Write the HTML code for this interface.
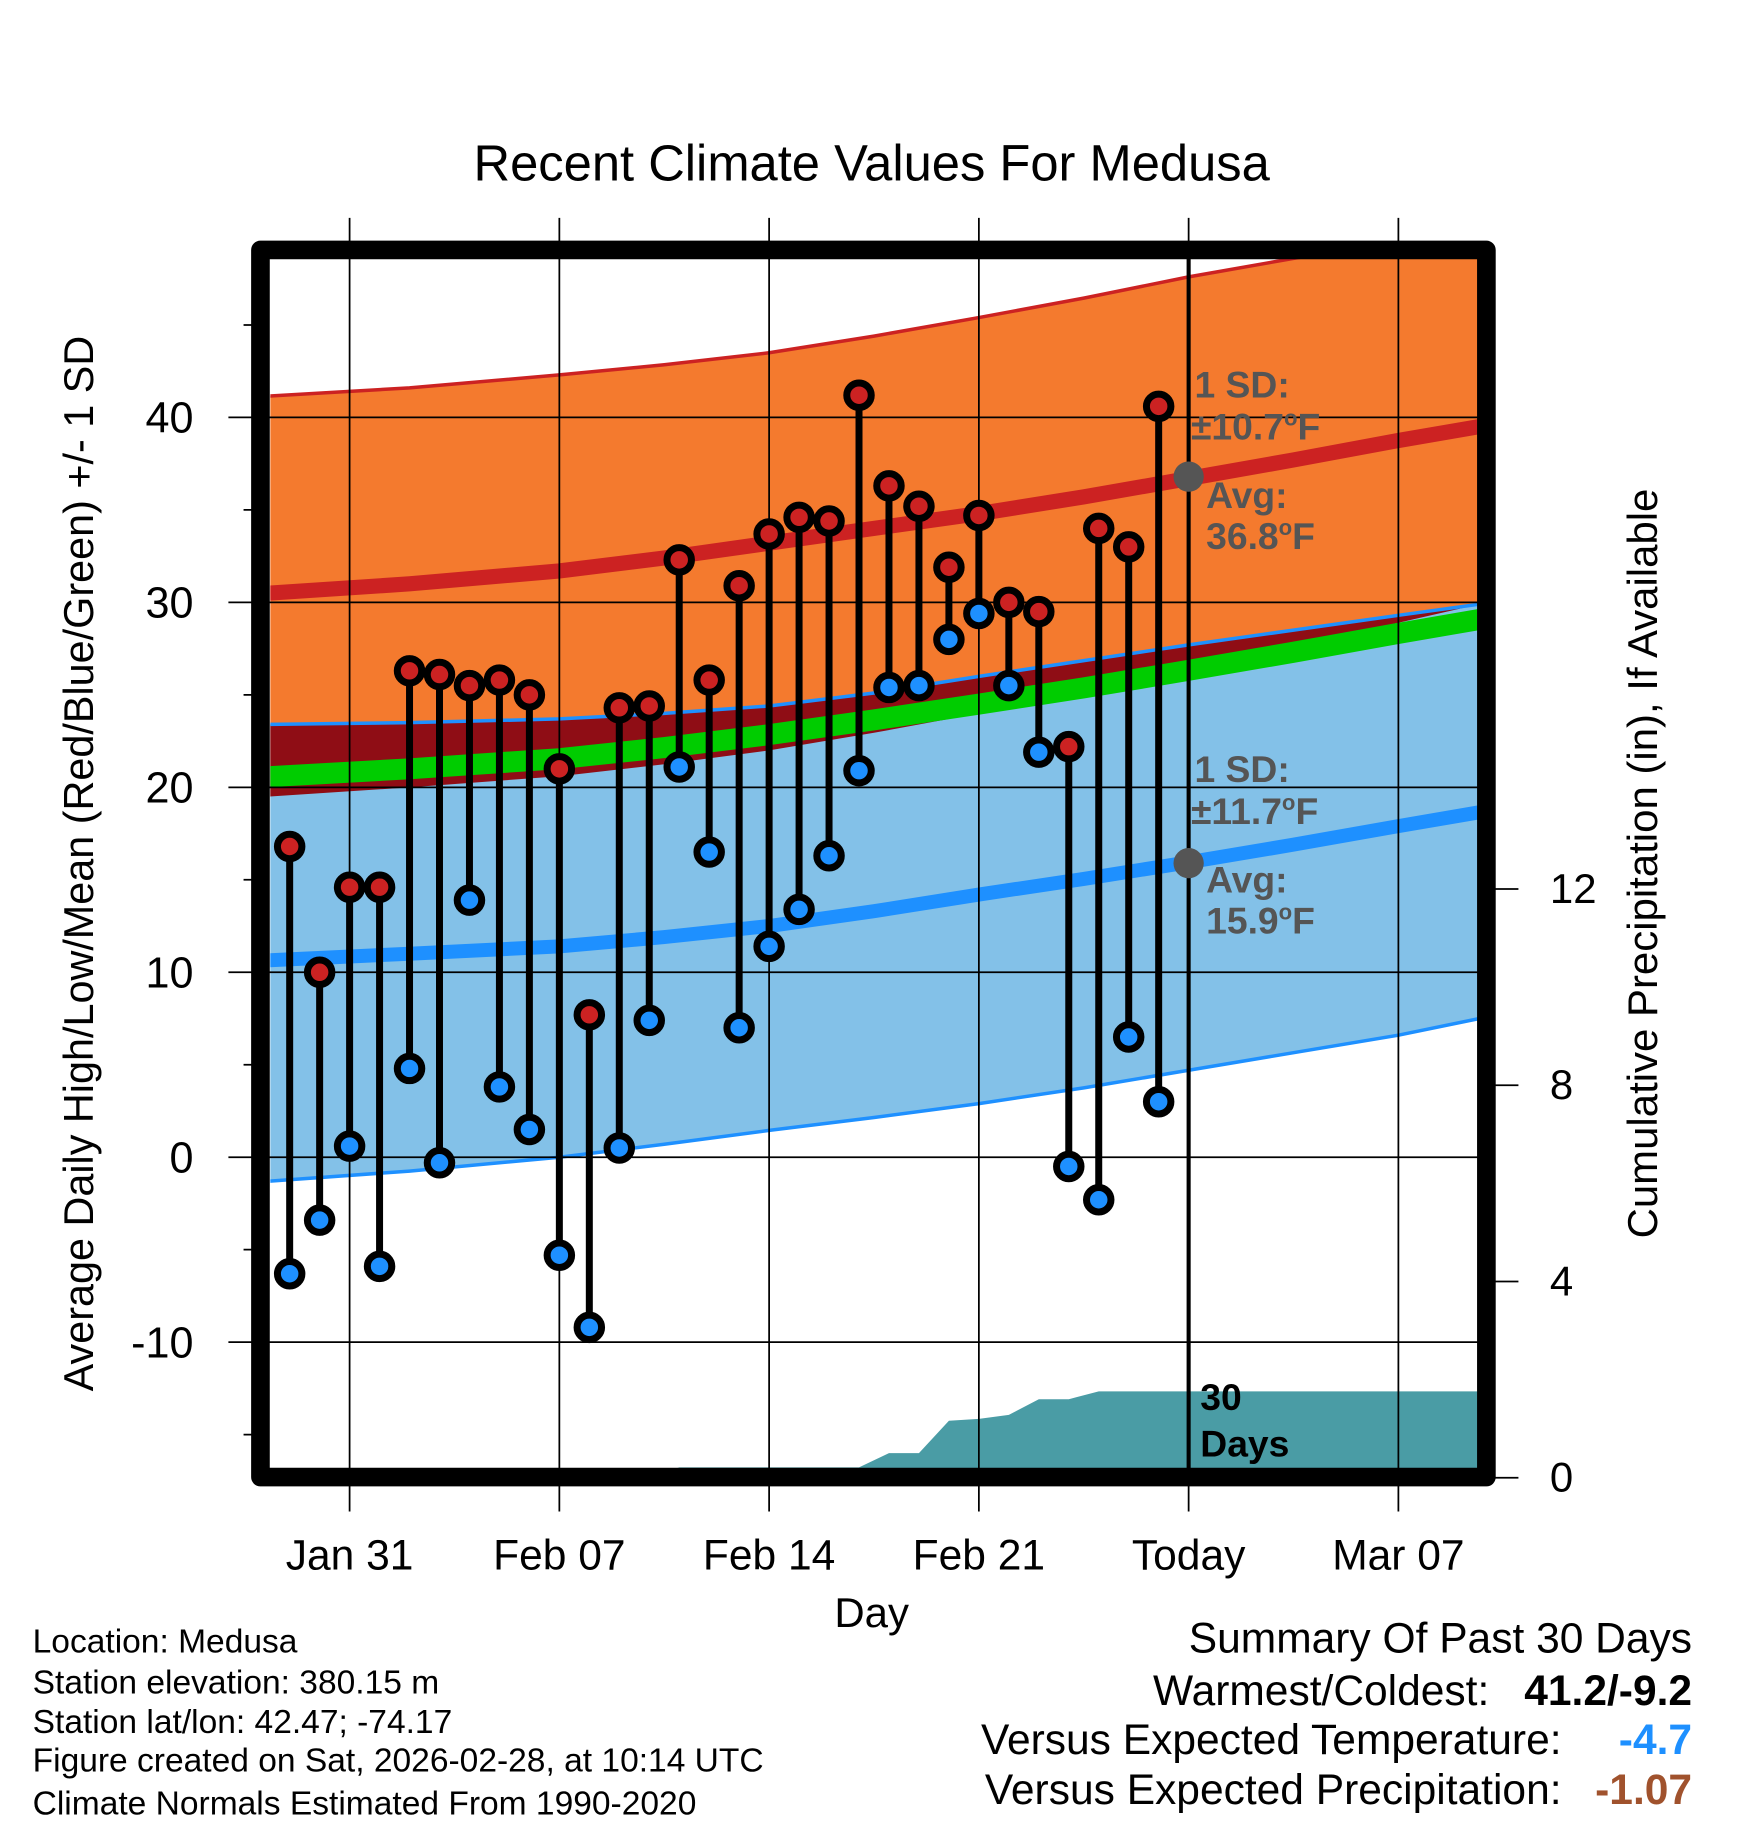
<!DOCTYPE html>
<html><head><meta charset="utf-8"><style>
html,body{margin:0;padding:0;background:#fff;}
svg{display:block;font-family:"Liberation Sans",Arial,sans-serif;}
</style></head><body>
<svg id="chart" width="1748" height="1828" viewBox="0 0 1500 1568.6" preserveAspectRatio="none" xmlns="http://www.w3.org/2000/svg">
<defs><clipPath id="plotclip"><rect x="232" y="222" width="1036" height="1038"/></clipPath></defs>
<g id="plot" clip-path="url(#plotclip)"></g>
<g id="over"></g>
<text x="748" y="155" text-anchor="middle" font-size="43.5">Recent Climate Values For Medusa</text>
<text transform="translate(80,741) rotate(-90)" text-anchor="middle" font-size="35.5">Average Daily High/Low/Mean (Red/Blue/Green) +/- 1 SD</text>
<text transform="translate(1422,741) rotate(-90)" text-anchor="middle" font-size="36">Cumulative Precipitation (in), If Available</text>
<text x="748" y="1396" text-anchor="middle" font-size="36">Day</text>
<g font-size="28.8">
<text x="28" y="1418">Location: Medusa</text>
<text x="28" y="1453">Station elevation: 380.15 m</text>
<text x="28" y="1487">Station lat/lon: 42.47; -74.17</text>
<text x="28" y="1520">Figure created on Sat, 2026-02-28, at 10:14 UTC</text>
<text x="28" y="1557">Climate Normals Estimated From 1990-2020</text>
</g>
<g font-size="36.5">
<text x="1452" y="1418" text-anchor="end">Summary Of Past 30 Days</text>
<text x="1278" y="1463" text-anchor="end">Warmest/Coldest:</text>
<text x="1452" y="1463" text-anchor="end" font-weight="bold">41.2/-9.2</text>
<text x="1340" y="1505" text-anchor="end">Versus Expected Temperature:</text>
<text x="1452" y="1505" text-anchor="end" font-weight="bold" fill="#1e90ff">-4.7</text>
<text x="1340" y="1548" text-anchor="end">Versus Expected Precipitation:</text>
<text x="1452" y="1548" text-anchor="end" font-weight="bold" fill="#a0522d">-1.07</text>
</g>
</svg>
<script>
// data (days relative to Jan 31)
const days = [-2,-1,0,1,2,3,4,5,6,7,8,9,10,11,12,13,14,15,16,17,18,19,20,21,22,23,24,25,26,27];
const highs = [16.8,10.0,14.6,14.6,26.3,26.1,25.5,25.8,25.0,21.0,7.7,24.3,24.4,32.3,25.8,30.9,33.7,34.6,34.4,41.2,36.3,35.2,31.9,34.7,30.0,29.5,22.2,34.0,33.0,40.6];
const lows = [-6.3,-3.4,0.6,-5.9,4.8,-0.3,13.9,3.8,1.5,-5.3,-9.2,0.5,7.4,21.1,16.5,7.0,11.4,13.4,16.3,20.9,25.4,25.5,28.0,29.4,25.5,21.9,-0.5,-2.3,6.5,3.0];
const precip = [0,0,0,0,0,0,0,0,0,0,0,0,0,0.21,0.21,0.21,0.21,0.21,0.21,0.21,0.5,0.5,1.16,1.2,1.28,1.6,1.6,1.76,1.76,1.76];
const normDays = [-2.7,2,7,10.5,14,17.5,21,24.5,28,31.5,35,37.7];
const upperHigh = [41.15,41.6,42.3,42.85,43.5,44.4,45.4,46.45,47.6,48.6,49.5,50.2];
const avgHigh = [30.5,31.0,31.7,32.4,33.2,34.0,34.8,35.7,36.7,37.7,38.75,39.5];
const lowerHigh = [19.5,20.0,20.6,21.25,22.0,22.95,24.0,25.2,26.5,27.7,28.9,30.0];
const upperLow = [23.4,23.5,23.7,24.0,24.4,25.1,26.0,26.85,27.7,28.5,29.3,29.9];
const avgLow = [10.65,11.0,11.4,11.9,12.5,13.3,14.2,15.05,15.95,16.9,17.9,18.65];
const lowerLow = [-1.3,-0.75,0,0.7,1.45,2.15,2.9,3.75,4.7,5.65,6.6,7.5];
const yTicks = [-10,0,10,20,30,40];
const y2Ticks = [0,4,8,12];
const xTickDays = [0,7,14,21,28,35];
const xTickLabels = ["Jan 31","Feb 07","Feb 14","Feb 21","Today","Mar 07"];

const X = d => 300 + 25.714*d;
const Y = v => 993 - 15.87*v;
const Y2 = p => 1268 - 42.1*p;
const NS = "http://www.w3.org/2000/svg";
const plot = document.getElementById('plot');
const over = document.getElementById('over');
function mk(tag, attrs, parent){const e=document.createElementNS(NS,tag);for(const k in attrs)e.setAttribute(k,attrs[k]);parent.appendChild(e);return e;}
const pts = arr => normDays.map((d,i)=>X(d).toFixed(1)+','+Y(arr[i]).toFixed(1));
const band = (a,b) => pts(a).concat(pts(b).reverse()).join(' ');

let e;
e = mk('polygon',{points:band(upperHigh,lowerHigh),fill:'#f47a2e'},plot);
 
e = mk('polygon',{points:band(upperLow,lowerLow),fill:'#83c1e8'},plot);
 
e = mk('polygon',{points:band(upperLow,lowerHigh.map((v,i)=>Math.min(v,upperLow[i]))),fill:'#8f0d15'},plot);
 
e = mk('polyline',{points:pts(upperLow).join(' '),fill:'none',stroke:'#1e90ff','stroke-width':3},plot);
 
e = mk('polyline',{points:pts(lowerLow).join(' '),fill:'none',stroke:'#1e90ff','stroke-width':3},plot);
 
e = mk('polyline',{points:pts(upperHigh).join(' '),fill:'none',stroke:'#cc2222','stroke-width':3},plot);
 
const meanN = avgHigh.map((v,i)=>(v+avgLow[i])/2);
e = mk('polyline',{points:pts(meanN).join(' '),fill:'none',stroke:'#00cc00','stroke-width':18},plot);
 
e = mk('polyline',{points:pts(avgHigh).join(' '),fill:'none',stroke:'#cc2222','stroke-width':13},plot);
 
e = mk('polyline',{points:pts(avgLow).join(' '),fill:'none',stroke:'#1e90ff','stroke-width':12},plot);
 

// precip
let pp = [X(days[0])+','+Y2(0)];
days.forEach((d,i)=>pp.push(X(d)+','+Y2(precip[i])));
pp.push('1270,'+Y2(precip[precip.length-1]));
pp.push('1270,'+Y2(0));
e = mk('polygon',{points:pp.join(' '),fill:'#4a9ca5'},plot);
 

// grid
yTicks.forEach(v=>{e=mk('line',{x1:196,x2:1268,y1:Y(v),y2:Y(v),stroke:'#000','stroke-width':1.5},over);
 
e=mk('text',{x:166,y:Y(v)+13,'text-anchor':'end','font-size':37},over); e.textContent=v;
 });
for(let v=-15;v<=45;v+=10){e=mk('line',{x1:209,x2:223,y1:Y(v),y2:Y(v),stroke:'#000','stroke-width':1.5},over);
 }
xTickDays.forEach((d,i)=>{e=mk('line',{x1:X(d),x2:X(d),y1:187,y2:1297,stroke:'#000','stroke-width':1.5},over);
 
e=mk('text',{x:X(d),y:1347,'text-anchor':'middle','font-size':36.5},over); e.textContent=xTickLabels[i];
 });
y2Ticks.forEach(p=>{e=mk('line',{x1:1283,x2:1303,y1:Y2(p),y2:Y2(p),stroke:'#000','stroke-width':1.5},over);
 
e=mk('text',{x:1330,y:Y2(p)+12,'font-size':36},over); e.textContent=p;
 });

// today line
e=mk('line',{x1:X(28),x2:X(28),y1:207,y2:1262,stroke:'#000','stroke-width':3.5},over);
 

// stems and markers
days.forEach((d,i)=>{
  e=mk('line',{x1:X(d),x2:X(d),y1:Y(highs[i]),y2:Y(lows[i]),stroke:'#000','stroke-width':6},over);
   
});
days.forEach((d,i)=>{
  e=mk('circle',{cx:X(d),cy:Y(highs[i]),r:10.5,fill:'#cc2222',stroke:'#000','stroke-width':6},over);
   
  e=mk('circle',{cx:X(d),cy:Y(lows[i]),r:10.5,fill:'#1e90ff',stroke:'#000','stroke-width':6},over);
   
});
// normal dots
[36.8,15.9].forEach(v=>{e=mk('circle',{cx:X(28),cy:Y(v),r:13,fill:'#555'},over);
 });

// frame
e=mk('rect',{x:223.5,y:214.5,width:1052,height:1053,fill:'none',stroke:'#000','stroke-width':16,'stroke-linejoin':'round'},over);
 

// annotations
function ann(x,y,txt,name,col){const t=mk('text',{x:x,y:y,'font-size':32,'font-weight':'bold',fill:col||'#555'},over);t.innerHTML=txt;
 }
ann(1025,341,'1 SD:','high-sd-label');
ann(1022,377,'±10.7<tspan font-size="19" dy="-12">o</tspan><tspan dy="12">F</tspan>','high-sd-value');
ann(1035,436,'Avg:','high-avg-label');
ann(1035,471,'36.8<tspan font-size="19" dy="-12">o</tspan><tspan dy="12">F</tspan>','high-avg-value');
ann(1025,671,'1 SD:','low-sd-label');
ann(1022,707,'±11.7<tspan font-size="19" dy="-12">o</tspan><tspan dy="12">F</tspan>','low-sd-value');
ann(1035,766,'Avg:','low-avg-label');
ann(1035,801,'15.9<tspan font-size="19" dy="-12">o</tspan><tspan dy="12">F</tspan>','low-avg-value');
ann(1030,1210,'30','days-count','#000');
ann(1030,1250,'Days','days-label','#000');
</script>
</body></html>
